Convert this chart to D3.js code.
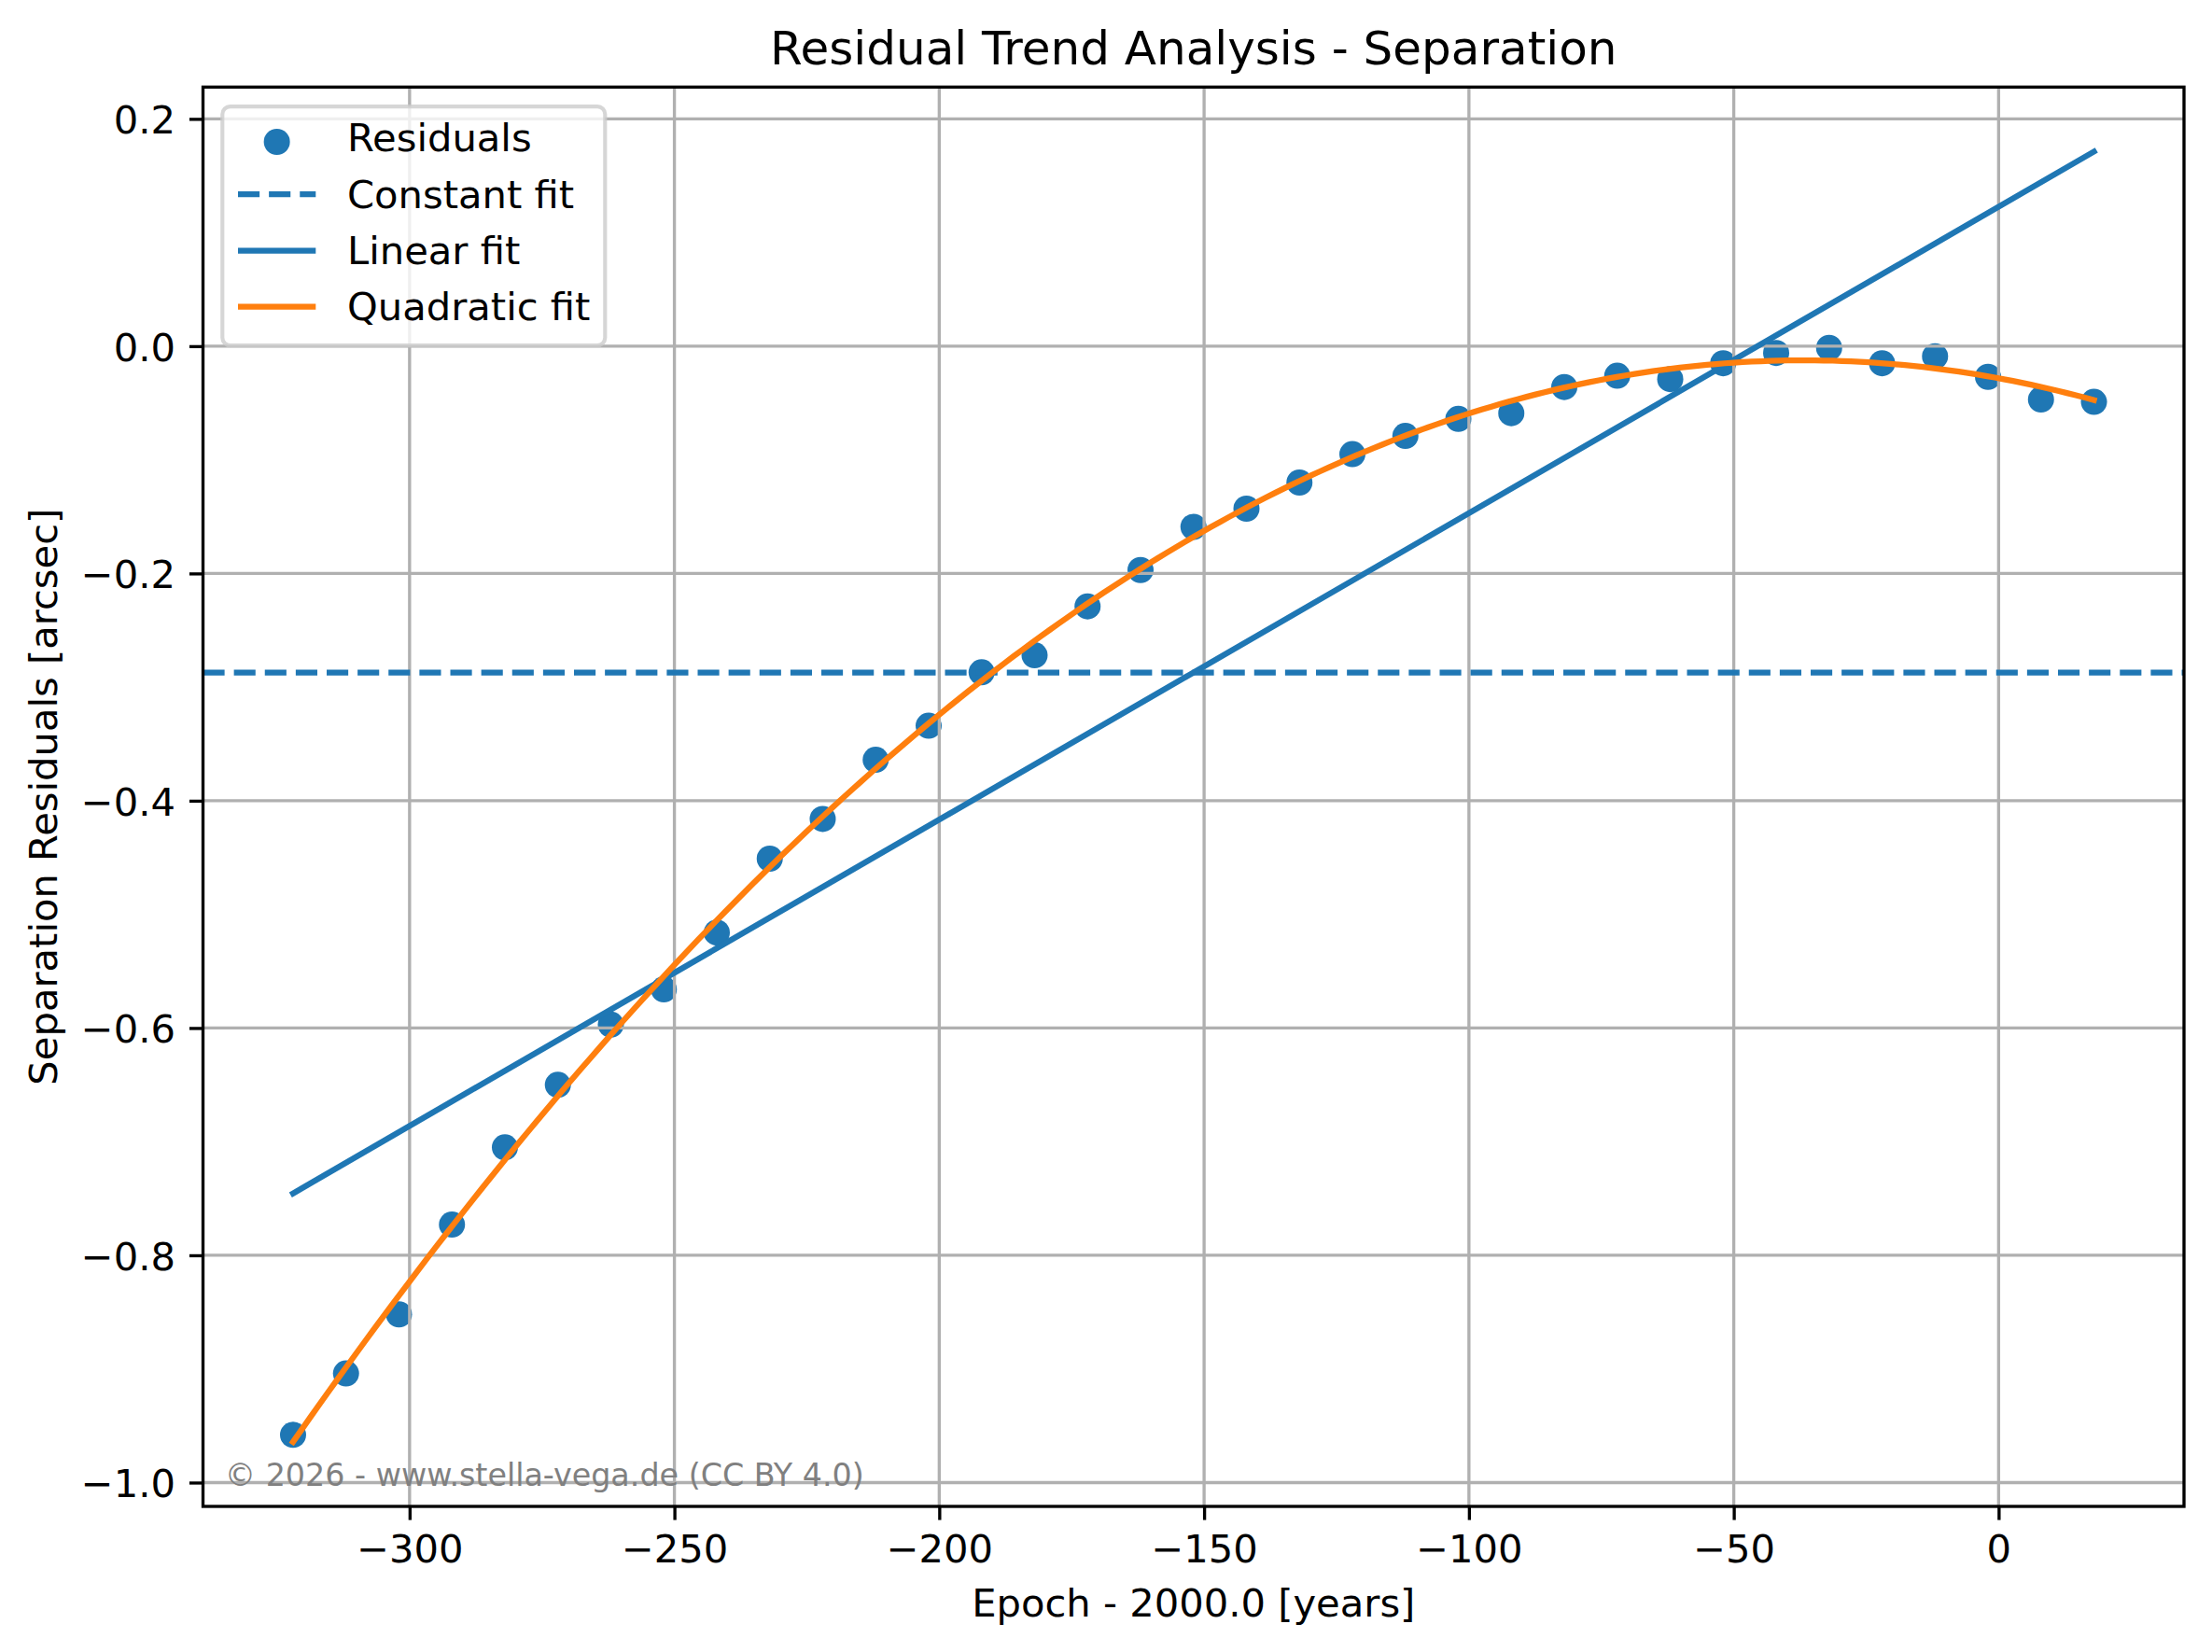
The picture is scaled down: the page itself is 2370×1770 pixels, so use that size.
<!DOCTYPE html>
<html>
<head>
<meta charset="utf-8">
<script src="https://cdn.jsdelivr.net/npm/d3@7"></script>
<style>
  html, body { margin: 0; padding: 0; background: #ffffff; }
  svg { display: block; }
  text { font-family: "DejaVu Sans", sans-serif; }
</style>
</head>
<body>
<script>
// ---------------- data ----------------
const epochs = [-322, -312, -302, -292, -282, -272, -262, -252, -242, -232,
                -222, -212, -202, -192, -182, -172, -162, -152, -142, -132,
                -122, -112, -102, -92, -82, -72, -62, -52, -42, -32,
                -22, -12, -2, 8, 18];
const residuals = [-0.958, -0.904, -0.852, -0.773, -0.705, -0.650, -0.597, -0.566, -0.516, -0.451,
                   -0.416, -0.364, -0.334, -0.287, -0.272, -0.229, -0.197, -0.159, -0.143, -0.120,
                   -0.095, -0.079, -0.064, -0.059, -0.036, -0.026, -0.029, -0.015, -0.006, -0.0015,
                   -0.015, -0.009, -0.027, -0.047, -0.049];
const xTicks = [-300, -250, -200, -150, -100, -50, 0];
const yTicks = [-1.0, -0.8, -0.6, -0.4, -0.2, 0.0, 0.2];
const legendLabels = ["Residuals", "Constant fit", "Linear fit", "Quadratic fit"];
const titleText = "Residual Trend Analysis - Separation";
const xLabelText = "Epoch - 2000.0 [years]";
const yLabelText = "Separation Residuals [arcsec]";
const watermarkText = "\u00A9 2026 - www.stella-vega.de (CC BY 4.0)";

// ---------------- least-squares polynomial fits ----------------
function polyfit(xs, ys, deg) {
  const n = deg + 1;
  const A = Array.from({length: n}, () => new Array(n + 1).fill(0));
  for (let k = 0; k < xs.length; k++) {
    for (let i = 0; i < n; i++) {
      for (let j = 0; j < n; j++) A[i][j] += Math.pow(xs[k], i + j);
      A[i][n] += ys[k] * Math.pow(xs[k], i);
    }
  }
  for (let c = 0; c < n; c++) {
    let p = c;
    for (let r = c + 1; r < n; r++) if (Math.abs(A[r][c]) > Math.abs(A[p][c])) p = r;
    [A[c], A[p]] = [A[p], A[c]];
    for (let r = 0; r < n; r++) {
      if (r === c) continue;
      const f = A[r][c] / A[c][c];
      for (let j = c; j <= n; j++) A[r][j] -= f * A[c][j];
    }
  }
  return A.map((row, i) => row[n] / row[i]); // coefficients c0 + c1 x + c2 x^2
}
const evalPoly = (c, x) => c.reduce((s, ci, i) => s + ci * Math.pow(x, i), 0);

const cConst = polyfit(epochs, residuals, 0);
const cLin = polyfit(epochs, residuals, 1);
const cQuad = polyfit(epochs, residuals, 2);

const [xMin, xMax] = d3.extent(epochs);
const curveX = d3.range(0, 201).map(i => xMin + (xMax - xMin) * i / 200);
const linPts = [xMin, xMax].map(x => [x, evalPoly(cLin, x)]);
const quadPts = curveX.map(x => [x, evalPoly(cQuad, x)]);

// ---------------- layout ----------------
const W = 2370, H = 1770;
const L = 217.5, R = 2340, T = 93.3, B = 1614;
const PT = 300 / 72; // px per point

const svg = d3.select("body").append("svg").attr("width", W).attr("height", H);
svg.append("rect").attr("width", W).attr("height", H).attr("fill", "#ffffff");

const xPad = (xMax - xMin) * 0.05;
const x = d3.scaleLinear().domain([xMin - xPad, xMax + xPad]).range([L, R]);
const allY = residuals.concat(linPts.map(d => d[1]), quadPts.map(d => d[1]), [cConst[0]]);
const [yLo, yHi] = d3.extent(allY);
const yPad = (yHi - yLo) * 0.05;
const y = d3.scaleLinear().domain([yLo - yPad, yHi + yPad]).range([B, T]);

svg.append("defs").append("clipPath").attr("id", "clip")
  .append("rect").attr("x", L).attr("y", T).attr("width", R - L).attr("height", B - T);

const plot = svg.append("g").attr("clip-path", "url(#clip)");

// scatter (below grid, like matplotlib zorder)
plot.append("g").selectAll("circle").data(epochs).join("circle")
  .attr("cx", d => x(d))
  .attr("cy", (d, i) => y(residuals[i]))
  .attr("r", 14)
  .attr("fill", "#1f77b4");

// grid
const grid = plot.append("g").attr("stroke", "#b0b0b0").attr("stroke-width", 0.8 * PT);
grid.selectAll(".gx").data(xTicks).join("line")
  .attr("x1", d => x(d)).attr("x2", d => x(d)).attr("y1", T).attr("y2", B);
grid.selectAll(".gy").data(yTicks).join("line")
  .attr("y1", d => y(d)).attr("y2", d => y(d)).attr("x1", L).attr("x2", R);

// constant fit (axhline)
plot.append("line")
  .attr("x1", L).attr("x2", R)
  .attr("y1", y(cConst[0])).attr("y2", y(cConst[0]))
  .attr("stroke", "#1f77b4").attr("stroke-width", 1.5 * PT)
  .attr("stroke-dasharray", `${3.7 * 1.5 * PT} ${1.6 * 1.5 * PT}`);

const lineGen = d3.line().x(d => x(d[0])).y(d => y(d[1]));
plot.append("path").attr("d", lineGen(linPts))
  .attr("fill", "none").attr("stroke", "#1f77b4").attr("stroke-width", 1.5 * PT)
  .attr("stroke-linecap", "square");
plot.append("path").attr("d", lineGen(quadPts))
  .attr("fill", "none").attr("stroke", "#ff7f0e").attr("stroke-width", 1.5 * PT)
  .attr("stroke-linecap", "square").attr("stroke-linejoin", "round");

// spines
svg.append("rect").attr("x", L).attr("y", T).attr("width", R - L).attr("height", B - T)
  .attr("fill", "none").attr("stroke", "#000").attr("stroke-width", 0.8 * PT);

// axes
const fmtX = d => d3.format("d")(d).replace("-", "\u2212");
const fmtY = d => d3.format(".1f")(d).replace("-", "\u2212");
const tickLen = 3.5 * PT;

const xAxis = svg.append("g").attr("transform", `translate(0,${B})`)
  .call(d3.axisBottom(x).tickValues(xTicks).tickFormat(fmtX).tickSize(tickLen).tickPadding(3.5 * PT));
const yAxis = svg.append("g").attr("transform", `translate(${L},0)`)
  .call(d3.axisLeft(y).tickValues(yTicks).tickFormat(fmtY).tickSize(tickLen).tickPadding(3.5 * PT));
[xAxis, yAxis].forEach(g => {
  g.select(".domain").remove();
  g.selectAll(".tick line").attr("stroke", "#000").attr("stroke-width", 0.8 * PT);
  g.selectAll(".tick text").attr("fill", "#000")
    .style("font-family", "'DejaVu Sans', sans-serif").style("font-size", (10 * PT) + "px");
});
xAxis.selectAll(".tick text").attr("dy", null).attr("y", 1674 - B);
yAxis.selectAll(".tick text").attr("dy", null).attr("y", 15.5).attr("x", 188 - L);

// labels
svg.append("text").attr("x", (L + R) / 2).attr("y", 69).attr("text-anchor", "middle")
  .style("font-size", (12 * PT) + "px").attr("fill", "#000").text(titleText);
svg.append("text").attr("x", (L + R) / 2).attr("y", 1731.7).attr("text-anchor", "middle")
  .style("font-size", (10 * PT) + "px").attr("fill", "#000").text(xLabelText);
svg.append("text").attr("transform", `translate(61,${(T + B) / 2}) rotate(-90)`)
  .attr("text-anchor", "middle")
  .style("font-size", (10 * PT) + "px").attr("fill", "#000").text(yLabelText);

// watermark
svg.append("text").attr("x", L + 0.01 * (R - L) + 2).attr("y", 1591.5)
  .style("font-size", (8 * PT) + "px").attr("fill", "#808080").text(watermarkText);

// legend
const lg = svg.append("g");
lg.append("rect").attr("x", 238.3).attr("y", 114.1).attr("width", 410).attr("height", 256)
  .attr("rx", 8.3).attr("ry", 8.3)
  .attr("fill", "#ffffff").attr("fill-opacity", 0.8)
  .attr("stroke", "#cccccc").attr("stroke-opacity", 0.8).attr("stroke-width", 1.0 * PT);
const baselines = [162.3, 222.7, 283.3, 343.3];
const hx1 = 255, hx2 = 338.3, tx = 372;
legendLabels.forEach((lab, i) => {
  const by = baselines[i];
  if (i === 0) {
    lg.append("circle").attr("cx", (hx1 + hx2) / 2).attr("cy", 152).attr("r", 14).attr("fill", "#1f77b4");
  } else {
    const ln = lg.append("line").attr("x1", hx1).attr("x2", hx2)
      .attr("y1", by - 14.6).attr("y2", by - 14.6)
      .attr("stroke", i === 3 ? "#ff7f0e" : "#1f77b4").attr("stroke-width", 1.5 * PT);
    if (i === 1) ln.attr("stroke-dasharray", `${3.7 * 1.5 * PT} ${1.6 * 1.5 * PT}`);
  }
  lg.append("text").attr("x", tx).attr("y", by)
    .style("font-size", (10 * PT) + "px").attr("fill", "#000").text(lab);
});
</script>
</body>
</html>
